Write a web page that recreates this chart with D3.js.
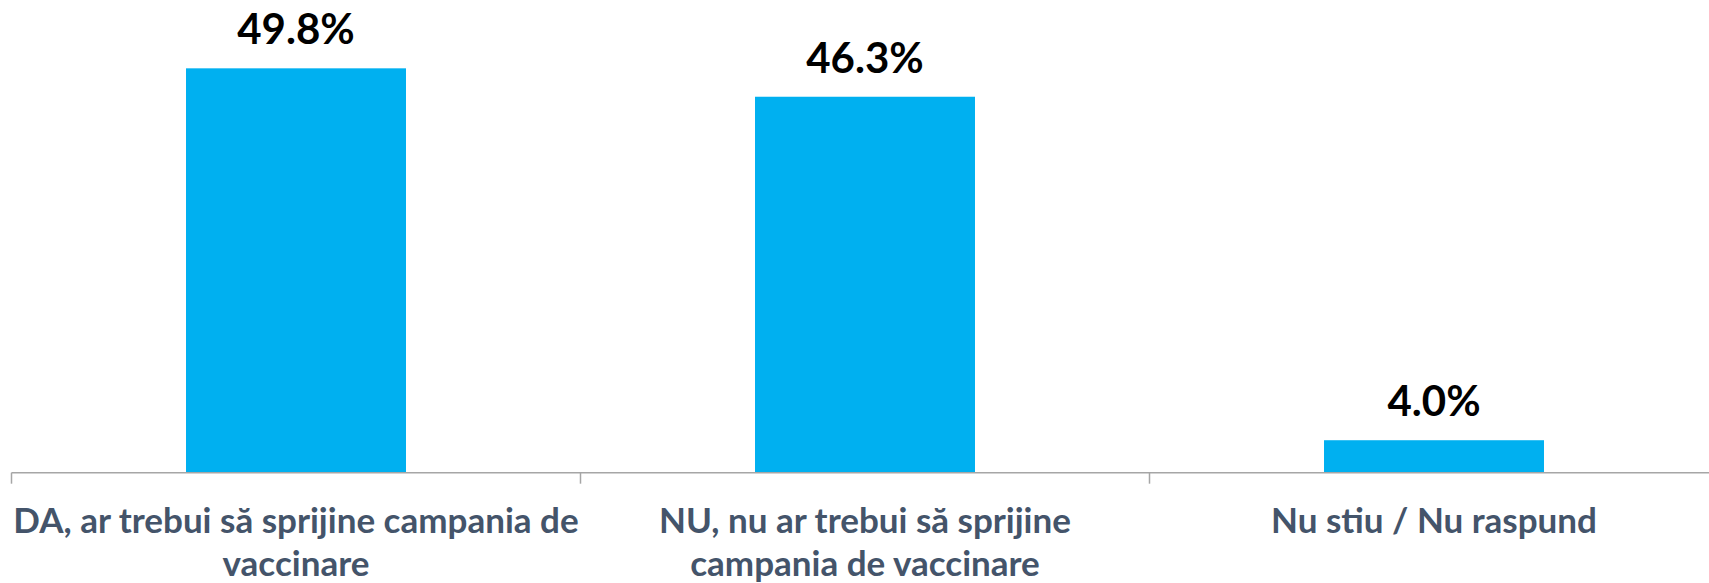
<!DOCTYPE html>
<html lang="ro">
<head>
<meta charset="UTF-8">
<title>Chart</title>
<script src="https://d3js.org/d3.v7.min.js"></script>
<style>
body { margin:0; background:#fff; }
.val { font-family: Lato, 'Open Sans', sans-serif; font-weight:700; font-size:42px; fill:#000; }
.cat { font-family: Lato, 'Open Sans', sans-serif; font-weight:700; font-size:35px; fill:#44546A; }
</style>
</head>
<body>
<div id="grafica"></div>
<script>
// datos
categorias = ['DA, ar trebui să sprijine campania de\nvaccinare',
              'NU, nu ar trebui să sprijine\ncampania de vaccinare',
              'Nu stiu / Nu raspund']
valores = [49.8, 46.3, 4.0]
etiquetas = ['49.8%', '46.3%', '4.0%']

ancho_total = 1709
alto_total = 583

svg = d3.select('#grafica')
        .append('svg')
        .attr('width', ancho_total)
        .attr('height', alto_total)

pad = 0.6134
x = d3.scaleBand()
        .domain(categorias)
        .range([11.5, 1718.5])
        .paddingInner(pad)
        .paddingOuter(pad/2)

y = d3.scaleLinear()
        .domain([0, 55])
        .range([472.7, 472.7 - 55*8.12])

datos = categorias.map((c,i)=>({cat:c, val:valores[i], lab:etiquetas[i]}))

// barras
svg.selectAll('rect')
        .data(datos)
        .enter()
        .append('rect')
        .attr('x', d=>x(d.cat))
        .attr('y', d=>y(d.val))
        .attr('width', x.bandwidth())
        .attr('height', d=>y(0)-y(d.val))
        .attr('fill', '#00B0F0')

// eje
svg.append('line')
        .attr('x1', x.range()[0]).attr('x2', ancho_total)
        .attr('y1', y(0)).attr('y2', y(0))
        .attr('stroke', '#A6A6A6').attr('stroke-width', 1.5)

svg.selectAll('.tick')
        .data(categorias)
        .enter()
        .append('line')
        .attr('class', 'tick')
        .attr('x1', d=>x(d) - x.step()*pad/2)
        .attr('x2', d=>x(d) - x.step()*pad/2)
        .attr('y1', y(0)).attr('y2', y(0)+11)
        .attr('stroke', '#A6A6A6').attr('stroke-width', 1.5)

// etiquetas de valor
svg.selectAll('.val')
        .data(datos)
        .enter()
        .append('text')
        .attr('class', 'val')
        .attr('text-anchor', 'middle')
        .attr('x', d=>x(d.cat) + x.bandwidth()/2)
        .attr('y', d=>y(d.val) - 24)
        .text(d=>d.lab)

// etiquetas de categoria
cat = svg.selectAll('.cat')
        .data(categorias)
        .enter()
        .append('text')
        .attr('class', 'cat')
        .attr('text-anchor', 'middle')
        .attr('x', d=>x(d) + x.bandwidth()/2)
        .attr('y', 533)

cat.selectAll('tspan')
        .data(d=>d.split('\n').map(l=>({l:l, c:d})))
        .enter()
        .append('tspan')
        .attr('x', d=>x(d.c) + x.bandwidth()/2)
        .attr('dy', (d,i)=> i ? 43 : 0)
        .text(d=>d.l)
</script>
</body>
</html>
